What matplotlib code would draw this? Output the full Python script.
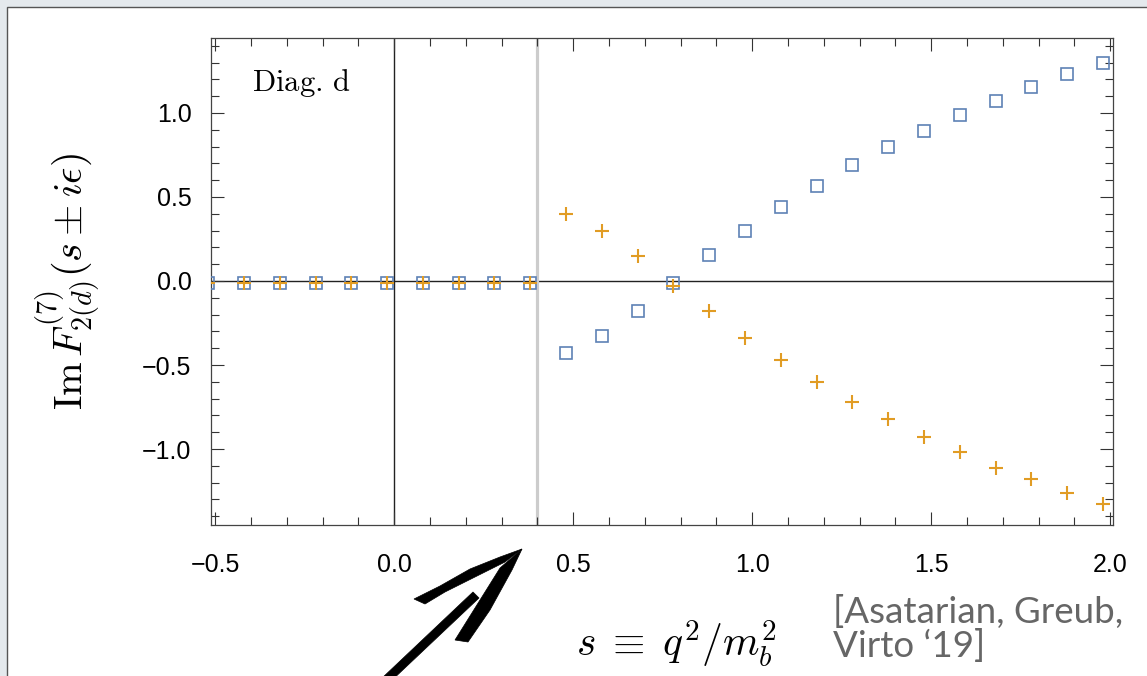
import matplotlib.pyplot as plt
import matplotlib.ticker as mticker
from matplotlib.patches import Rectangle, Polygon

plt.rcParams['font.family'] = 'Liberation Sans'
plt.rcParams['mathtext.fontset'] = 'cm'
plt.rcParams['axes.unicode_minus'] = True

# data
s_vals = [-0.52, -0.42, -0.32, -0.22, -0.12, -0.02, 0.08, 0.18, 0.28, 0.38,
          0.48, 0.58, 0.68, 0.78, 0.88, 0.98, 1.08, 1.18, 1.28, 1.38,
          1.48, 1.58, 1.68, 1.78, 1.88, 1.98]
im_plus = [-0.01] * 10 + [-0.43, -0.33, -0.18, -0.01, 0.155, 0.30, 0.44, 0.565,
                          0.69, 0.80, 0.89, 0.99, 1.07, 1.155, 1.23, 1.30]
im_minus = [-0.01] * 10 + [0.40, 0.30, 0.15, -0.03, -0.18, -0.34, -0.47, -0.60,
                           -0.72, -0.82, -0.93, -1.02, -1.11, -1.18, -1.26, -1.33]
threshold = 0.4
xticks = [-0.5, 0.0, 0.5, 1.0, 1.5, 2.0]
yticks = [-1.0, -0.5, 0.0, 0.5, 1.0]

W, H = 1147, 676
fig = plt.figure(figsize=(W / 100, H / 100), dpi=100, facecolor='#e4e9ed')

# white slide panel
fig.patches.append(Rectangle((7 / W, -0.01), 1.0, 1.01 - 7 / H, transform=fig.transFigure,
                             facecolor='white', edgecolor='#555555', lw=1.0, zorder=-1))

ax = fig.add_axes([211 / W, 1 - 525 / H, 902 / W, 487 / H])
ax.set_facecolor('white')
ax.set_xlim(-0.512, 2.008)
ax.set_ylim(-1.452, 1.446)

ax.axhline(0, color='#222222', lw=1.0, zorder=1)
ax.axvline(0, color='#222222', lw=1.0, zorder=1)
ax.axvline(threshold, color='#cccccc', lw=2.3, zorder=1)

ax.plot(s_vals, im_plus, ls='none', marker='s', ms=9, mfc='none', mec='#5E81B5',
        mew=1.2, zorder=3)
ax.plot(s_vals, im_minus, ls='none', marker='+', ms=10, mec='#E19C24',
        mew=1.5, zorder=4)

fmt = mticker.FuncFormatter(lambda v, p: f'{v:.1f}'.replace('-', '\u2212'))
ax.set_xticks(xticks)
ax.set_yticks(yticks)
ax.xaxis.set_minor_locator(mticker.MultipleLocator(0.1))
ax.yaxis.set_minor_locator(mticker.MultipleLocator(0.1))
ax.xaxis.set_major_formatter(fmt)
ax.yaxis.set_major_formatter(fmt)
ax.tick_params(which='both', direction='in', top=True, right=True, color='#333333',
               width=0.8, labelsize=18)
ax.tick_params(which='major', length=9.5)
ax.tick_params(which='minor', length=5.8)
ax.tick_params(axis='x', which='major', pad=20)
ax.tick_params(axis='y', which='major', pad=14)
for sp in ax.spines.values():
    sp.set_color('#444444')
    sp.set_linewidth(0.9)

ax.text(-0.397, 1.18, r'$\mathrm{Diag.}\,\mathrm{d}$', fontsize=22, va='center', ha='left')

ax.set_ylabel(r'$\mathrm{Im}\,F^{(7)}_{2(d)}(s\pm i\epsilon)$', fontsize=29)
ax.yaxis.set_label_coords(-0.1585, 0.5)
ax.yaxis.label.set_va('center')
ax.set_xlabel(r'$s\;\equiv\;q^2/m_b^2$', fontsize=30)
ax.xaxis.set_label_coords(0.5155, -0.246)
ax.xaxis.label.set_va('center')

fig.text(833 / W, 1 - 629 / H, "[Asatarian, Greub,\nVirto \u201819]", fontsize=26.5,
         family='Lato', color='#666666', ha='left', va='center', linespacing=1.02)

# hand-drawn style arrow on the slide
def px(pts):
    return [(x / W, 1 - y / H) for x, y in pts]

shaft = px([(380, 680), (473, 592), (479, 598), (389, 683)])
barb_left = px([(414, 599), (440, 586), (470, 569), (500, 557), (522, 549),
                (505, 562), (475, 577), (445, 592), (425, 604)])
barb_right = px([(455, 640), (480, 600), (500, 568), (522, 549), (512, 570),
                 (490, 610), (468, 642)])
for poly in (shaft, barb_left, barb_right):
    fig.patches.append(Polygon(poly, closed=True, transform=fig.transFigure,
                               facecolor='black', edgecolor='black', lw=0.5, zorder=5))

fig.savefig('out.png', dpi=100, facecolor=fig.get_facecolor())
